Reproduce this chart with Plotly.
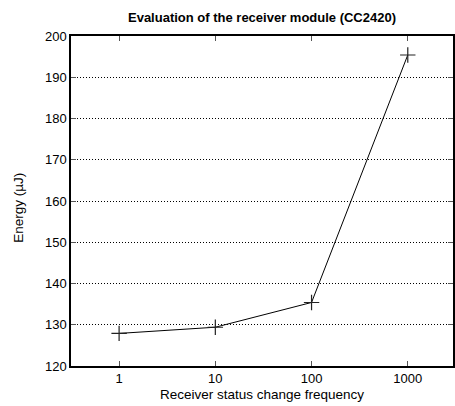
import plotly.graph_objects as go

# Receiver status change frequency vs. energy per evaluation
frequency = [1, 10, 100, 1000]
energy_uj = [127.9, 129.4, 135.4, 195.4]

x_tick_vals = [1, 10, 100, 1000]
x_tick_text = ["1", "10", "100", "1000"]
y_tick_vals = [120, 130, 140, 150, 160, 170, 180, 190, 200]

font_family = "Liberation Sans, Arial, sans-serif"

W, H = 455, 406
M_L, M_R, M_T, M_B = 71, 0, 36, 40
plot_w = W - M_L - M_R
plot_h = H - M_T - M_B

fig = go.Figure()
fig.add_trace(go.Scatter(
    x=frequency,
    y=energy_uj,
    mode="lines+markers",
    line=dict(color="black", width=1),
    marker=dict(symbol="cross-thin", size=11,
                line=dict(color="#222222", width=1.2)),
    showlegend=False,
))

fig.update_layout(
    width=W,
    height=H,
    margin=dict(l=M_L, r=M_R, t=M_T, b=M_B),
    paper_bgcolor="white",
    plot_bgcolor="white",
    font=dict(family=font_family, size=13, color="black"),
    title=dict(
        text="<b>Evaluation of the receiver module (CC2420)</b>",
        x=0.5, xanchor="center", xref="paper",
        y=1 - 17 / H, yanchor="middle", yref="container",
        font=dict(family=font_family, size=13, color="black"),
    ),
)

# Vertical axis title placed beside the tick labels
fig.add_annotation(
    text="Energy (µJ)",
    textangle=-90,
    xref="paper", yref="paper",
    x=(17.5 - M_L) / plot_w, y=(H - M_B - 208) / plot_h,
    xanchor="center", yanchor="middle",
    showarrow=False,
    font=dict(family=font_family, size=13.5, color="black"),
)

fig.update_xaxes(
    type="log",
    range=[-0.5, 3.47],
    tickvals=x_tick_vals,
    ticktext=x_tick_text,
    ticks="inside",
    ticklen=5,
    tickcolor="#555555",
    showline=True,
    linecolor="black",
    linewidth=1.5,
    mirror="ticks",
    showgrid=False,
    zeroline=False,
    title=dict(text="Receiver status change frequency", standoff=4,
               font=dict(size=13.5)),
)

fig.update_yaxes(
    range=[120, 200],
    tickvals=y_tick_vals,
    ticks="inside",
    ticklen=5,
    tickcolor="#555555",
    showline=True,
    linecolor="black",
    linewidth=1.5,
    mirror="ticks",
    showgrid=True,
    gridcolor="black",
    griddash="1px,2px",
    gridwidth=1,
    zeroline=False,
)

fig.write_html("out.html")
